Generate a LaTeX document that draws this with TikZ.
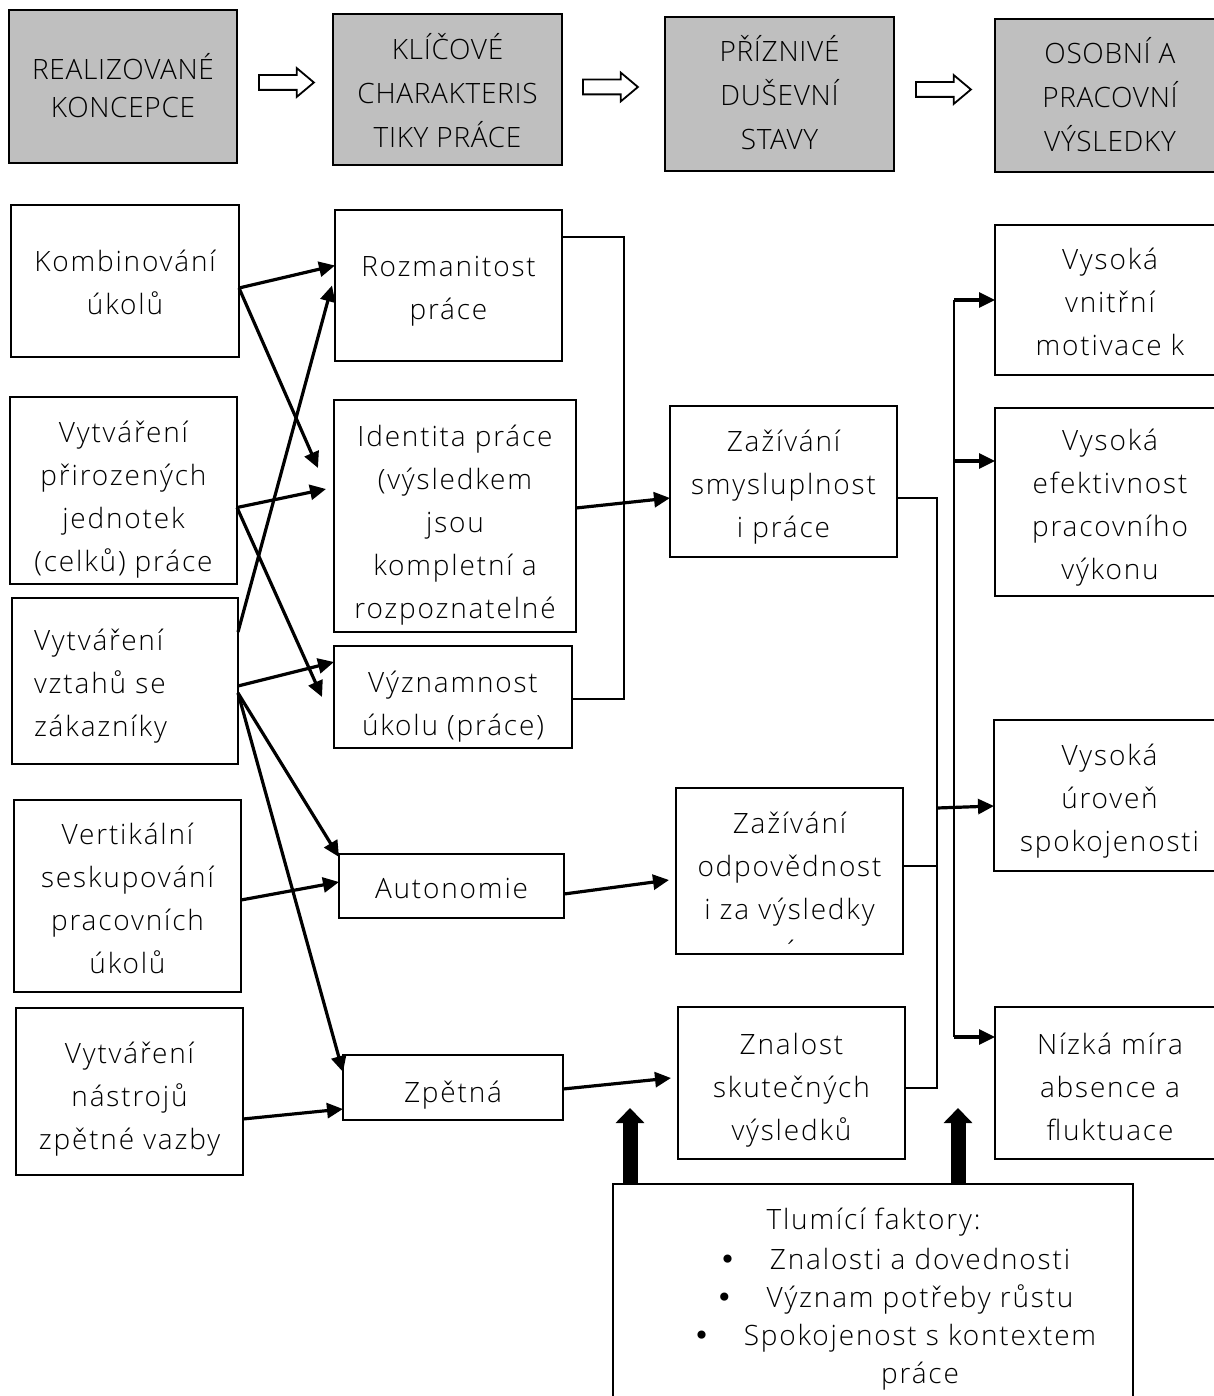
\documentclass[tikz,border=0pt]{standalone}
\usepackage{fontspec}
\IfFontExistsTF{Open Sans Light}{%
  \newfontfamily\bodyfont{Open Sans Light}[LetterSpace=6.5]%
  \newfontfamily\capsfont{Open Sans Light}[LetterSpace=2.5]}{%
  \newfontfamily\bodyfont{Open Sans}[LetterSpace=6.5]%
  \newfontfamily\capsfont{Open Sans}[LetterSpace=2.5]}
\newfontfamily\bulfont{DejaVu Sans}
\usetikzlibrary{arrows.meta,calc,shapes.arrows}
\definecolor{boxgray}{RGB}{191,191,191}
\newcommand\myfs{\bodyfont\fontsize{14pt}{21.5pt}\selectfont}
\newcommand\mytopfs{\capsfont\fontsize{14pt}{22pt}\selectfont}
\newcommand\mybul{\llap{{\bulfont •}\hspace{17pt}}}
% lines in a tabular with fixed row struts: #1 height, #2 depth, #3 column, #4 lines
\newcommand\bxg[4]{\setbox\strutbox\hbox{\vrule height#1 depth#2 width0pt}\begin{tabular}{@{}#3@{}}#4\end{tabular}}
\newcommand\bx[1]{\bxg{17pt}{4.5pt}{c}{#1}}
\newcommand\tbx[1]{\bxg{17pt}{5pt}{c}{#1}}
\newcommand\topstrut[1]{\rule{0pt}{#1}}
\tikzset{
  box/.style={draw, line width=1.2pt, rectangle, inner sep=0pt, outer sep=0pt, align=center, font=\myfs},
  gbox/.style={box, fill=boxgray, font=\mytopfs},
  thinln/.style={line width=0.9pt},
  arr/.style={line width=1.6pt, -{Triangle[length=8pt,width=7.5pt]}},
  hollow/.style={single arrow, draw, line width=0.9pt, inner xsep=0pt, inner ysep=3.25pt,
    single arrow head extend=3.5pt, single arrow tip angle=80, minimum height=27.5pt},
  fat/.style={line width=7.5pt, -{Triangle[length=7.5pt,width=14pt]}}
}
\begin{document}
\begin{tikzpicture}[x=0.5pt,y=-0.5pt]
\useasboundingbox (0,0) rectangle (1214,1396);
\fill[white] (0,0) rectangle (1214,1396);
% top row
\node[gbox, minimum width=114pt, minimum height=76.5pt] (T1) at (123,86.5) {\bxg{15.5pt}{3.5pt}{c}{REALIZOVANÉ\\KONCEPCE}};
\node[gbox, minimum width=114.5pt, minimum height=75.5pt] (T2) at (447.5,89.5) {\bxg{18pt}{4pt}{c}{KLÍČOVÉ\\CHARAKTERIS\\TIKY PRÁCE}};
\node[gbox, minimum width=114.5pt, minimum height=77pt] (T3) at (779.5,94) {\tbx{PŘÍZNIVÉ\\DUŠEVNÍ\\STAVY}};
\node[gbox, minimum width=115pt, minimum height=76.5pt] (T4) at (1110,95.5) {\tbx{OSOBNÍ A\\PRACOVNÍ\\VÝSLEDKY}};
\node[hollow] (A1) at (282,82.5) {};
\node[hollow] (A2) at (606,87) {};
\node[hollow] (A3) at (939,89.5) {};
% left column
\node[box, minimum width=114pt, minimum height=76pt] (L1) at (125,281) {\bx{Kombinování\\úkolů}};
\node[box, minimum width=113.5pt, minimum height=93.5pt] (L2) at (123.5,490.5) {\bx{\topstrut{20.5pt}Vytváření\\přirozených\\jednotek\\(celků) práce}};
\node[box, minimum width=113pt, minimum height=83pt, text width=91pt, align=left] (L3) at (125,681) {\bxg{17pt}{4.5pt}{l}{Vytváření\\vztahů se\\zákazníky}};
\node[box, minimum width=113.5pt, minimum height=96pt] (L4) at (127.5,896) {\bx{Vertikální\\seskupování\\pracovních\\úkolů}};
\node[box, minimum width=113.5pt, minimum height=83.5pt] (L5) at (129.5,1091.5) {\bxg{18pt}{3.5pt}{c}{Vytváření\\nástrojů\\zpětné vazby}};
% middle column
\node[box, minimum width=113.5pt, minimum height=75.5pt] (M1) at (448.5,285.5) {\bx{Rozmanitost\\práce}};
\node[box, minimum width=121pt, minimum height=116pt] (M2) at (455,516) {\bx{\topstrut{20.5pt}Identita práce\\(výsledkem\\jsou\\kompletní a\\rozpoznatelné}};
\node[box, minimum width=119pt, minimum height=51pt] (M3) at (453,697) {\bx{\topstrut{21pt}Významnost\\úkolu (práce)}};
\node[box, minimum width=112.5pt, minimum height=32pt] (M4) at (451.5,886) {\bx{Autonomie}};
\node[box, minimum width=110pt, minimum height=32.5pt] (M5) at (453,1087.5) {\bxg{18pt}{3.5pt}{c}{Zpětná}};
% states
\node[box, minimum width=113.5pt, minimum height=75.5pt] (S1) at (783.5,481.5) {\bx{Zažívání\\smysluplnost\\i práce}};
\node[box, minimum width=113.5pt, minimum height=83pt] (S2) at (789.5,871) {\bxg{13.5pt}{8pt}{c}{Zažívání\\odpovědnost\\i za výsledky}};
\node[font=\myfs, inner sep=0pt, anchor=north] (S2x) at (791,940) {´};
\node[box, minimum width=113.5pt, minimum height=76pt] (S3) at (791.5,1083) {\bxg{18pt}{3.5pt}{c}{Znalost\\skutečných\\výsledků}};
% results
\node[box, minimum width=115pt, minimum height=75pt] (R1) at (1110,300) {\bx{Vysoká\\vnitřní\\motivace k}};
\node[box, minimum width=115pt, minimum height=94pt] (R2) at (1110,502) {\bx{Vysoká\\efektivnost\\pracovního\\výkonu}};
\node[box, minimum width=115.5pt, minimum height=75.5pt] (R3) at (1109.5,795.5) {\bx{Vysoká\\úroveň\\spokojenosti}};
\node[box, minimum width=115pt, minimum height=76pt] (R4) at (1110,1083) {\bxg{18pt}{3.5pt}{c}{Nízká míra\\absence a\\fluktuace}};
% moderators
\node[draw, line width=1.2pt, rectangle, inner sep=0pt, outer sep=0pt, minimum width=260pt, minimum height=113pt] (B) at (873,1297) {};
\node[font=\myfs, inner sep=0pt] (Bt) at (873.5,1222) {Tlumící faktory:};
\node[font=\bodyfont\fontsize{14pt}{18.9pt}\selectfont, align=center, inner sep=0pt, anchor=north] (Bl) at (920,1248)
  {\mybul Znalosti a dovednosti\\\mybul Význam potřeby růstu\\\mybul Spokojenost s kontextem\\práce};
% arrows left -> middle
\draw[arr] ($(L1.east)+(0,7)$) -- ($(M1.west)+(0,-20)$);
\draw[arr] ($(L1.east)+(0,7)$) -- ($(M2.west)+(-16,-48)$);
\draw[arr] ($(L2.east)+(0,17)$) -- ($(M2.west)+(-8,-27)$);
\draw[arr] ($(L2.east)+(0,17)$) -- ($(M3.west)+(-12,0)$);
\draw[arr] ($(L3.east)+(0,-49)$) -- ($(M1.west)+(-3,0)$);
\draw[arr] ($(L3.east)+(0,5)$) -- ($(M3.west)+(0,-35)$);
\draw[arr] ($(L3.east)+(0,12)$) -- ($(M4.north west)+(0,3)$);
\draw[arr] ($(L3.east)+(0,12)$) -- ($(M5.north west)+(0,17)$);
\draw[arr] ($(L4.east)+(0,4)$) -- ($(M4.west)+(0,-4)$);
\draw[arr] ($(L5.east)+(0,27.5)$) -- ($(M5.west)+(0,21.5)$);
% middle -> states
\draw[arr] ($(M2.east)+(0,-8)$) -- ($(S1.west)+(0,16.5)$);
\draw[arr] ($(M4.east)+(0,8)$) -- ($(S2.west)+(-7,9)$);
\draw[arr] ($(M5.east)+(0,1.5)$) -- ($(S3.west)+(-7,-5)$);
% bracket 1
\coordinate (J1a) at (624,237);
\coordinate (J1b) at (624,699);
\draw[thinln] ($(M1.east)+(0,-48.5)$) -- (J1a) -- (J1b) -- ($(M3.east)+(0,2)$);
% bracket 2
\coordinate (J2a) at (937,498);
\coordinate (J2b) at (937,1088);
\draw[thinln] ($(S1.east)+(0,16.5)$) -- (J2a) -- (J2b) -- ($(S3.east)+(0,5)$);
\draw[thinln] ($(S2.east)+(0,-5)$) -- ++(34,0);
\draw[arr] ($(J2a |- R3.west)+(0,12.5)$) -- ($(R3.west)+(0,10.5)$);
% distribution line
\coordinate (K1) at (954,300);
\coordinate (K2) at (954,1037);
\draw[thinln] (K1) -- (K2);
\draw[arr] (K1) -- (R1.west);
\draw[arr] (K1 |- 0,461) -- ($(R2.west)+(0,-41)$);
\draw[arr] (K2) -- ($(R4.west)+(0,-46)$);
% fat up arrows
\coordinate (U1) at (630,1108);
\coordinate (U2) at (958,1108);
\draw[fat] (U1 |- B.north) -- (U1);
\draw[fat] (U2 |- B.north) -- (U2);
\end{tikzpicture}
\end{document}
